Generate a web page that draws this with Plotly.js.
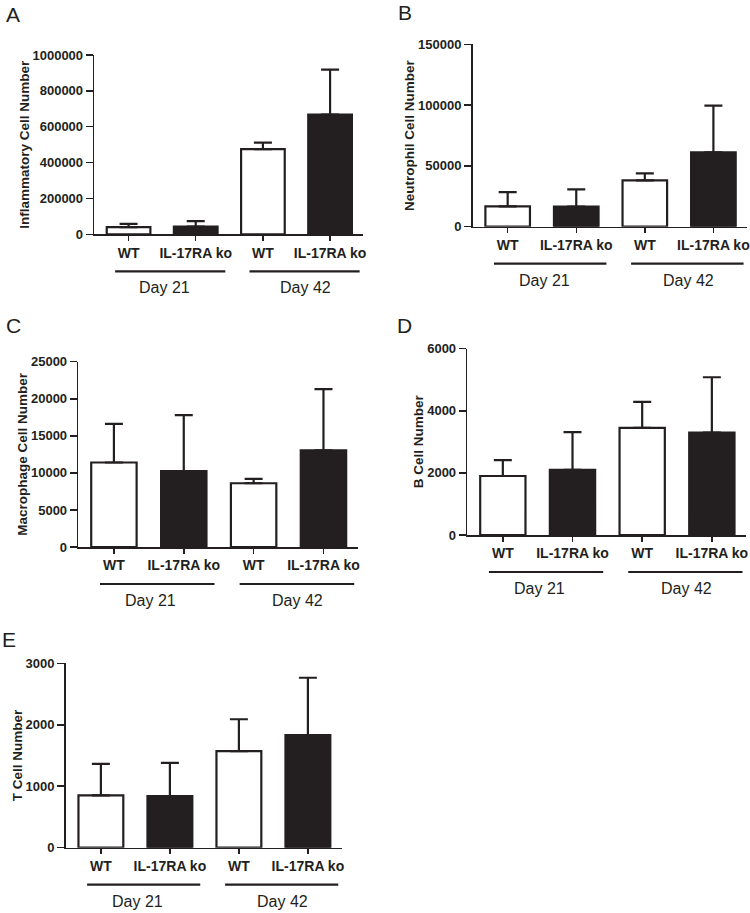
<!DOCTYPE html>
<html><head><meta charset="utf-8">
<script src="https://cdn.plot.ly/plotly-3.0.1.min.js"></script>
<style>html,body{margin:0;padding:0;background:#fff}#chart{width:750px;height:913px}</style>
</head><body><div id="chart"></div>
<script>
// ---- data ----
const categories = ['WT', 'IL-17RA ko', 'WT', 'IL-17RA ko'];
const days = ['Day 21', 'Day 42'];
const panelLetters = ['A', 'B', 'C', 'D', 'E'];
const yTitles = ['Inflammatory Cell Number', 'Neutrophil Cell Number', 'Macrophage Cell Number', 'B Cell Number', 'T Cell Number'];
const inflammatoryMean = [40000, 43000, 475000, 668000];
const inflammatorySem  = [18000, 31000, 36000, 250000];
const neutrophilMean = [16700, 16500, 38100, 61100];
const neutrophilSem  = [11800, 14200, 5800, 38500];
const macrophageMean = [11400, 10250, 8600, 13050];
const macrophageSem  = [5200, 7550, 600, 8250];
const bCellMean = [1900, 2100, 3450, 3300];
const bCellSem  = [510, 1210, 840, 1780];
const tCellMean = [850, 840, 1570, 1830];
const tCellSem  = [515, 540, 520, 935];
const yMax  = [1000000, 150000, 25000, 6000, 3000];
const yStep = [200000, 50000, 5000, 2000, 1000];

const means = [inflammatoryMean, neutrophilMean, macrophageMean, bCellMean, tCellMean];
const sems  = [inflammatorySem, neutrophilSem, macrophageSem, bCellSem, tCellSem];

// ---- layout geometry (px) ----
const W = 750, H = 913;
const boxes = [
  {x0: 94.3, x1: 363,   y0: 55,    y1: 234.3},
  {x0: 472.7, x1: 747,  y0: 44.3,  y1: 226.7},
  {x0: 78.3, x1: 357.7, y0: 361.7, y1: 547},
  {x0: 467.3, x1: 746,  y0: 348.7, y1: 535},
  {x0: 65.7, x1: 341.7, y0: 663.3, y1: 847.7}
];
const letterPos = [[12.5, 14.5], [405, 13], [13.5, 325.5], [404.5, 325.5], [8.5, 639.5]];
const INK = '#231f20';
const FONT = 'Liberation Sans, Arial, Helvetica, sans-serif';

const xIdx = categories.map((c, i) => i);
const traces = [];
const layout = {
  width: W, height: H,
  margin: {l: 0, r: 0, t: 0, b: 0},
  paper_bgcolor: '#fff', plot_bgcolor: '#fff',
  showlegend: false,
  font: {family: FONT, color: INK},
  shapes: [], annotations: []
};

boxes.forEach((b, p) => {
  const n = p === 0 ? '' : String(p + 1);
  const xa = 'xaxis' + n, ya = 'yaxis' + n;
  const xr = 'x' + n, yr = 'y' + n;
  traces.push({
    type: 'bar',
    x: xIdx,
    y: means[p],
    width: 0.65,
    xaxis: xr, yaxis: yr,
    marker: {
      color: xIdx.map(i => (i % 2 === 0 ? '#ffffff' : INK)),
      line: {color: INK, width: 2.2}
    },
    error_y: {
      type: 'data', symmetric: false,
      array: sems[p], arrayminus: sems[p].map(() => 0),
      color: INK, thickness: 2.2, width: 9
    },
    hoverinfo: 'y'
  });
  layout[xa] = {
    domain: [b.x0 / W, b.x1 / W],
    anchor: yr,
    range: [-0.51, 3.49],
    tickvals: xIdx, ticktext: categories,
    ticks: 'outside', ticklen: 5, tickwidth: 1.5, tickcolor: INK,
    showgrid: false, zeroline: false,
    showline: true, linecolor: INK, linewidth: 1.6,
    tickfont: {family: FONT, size: 14, color: INK, weight: 'bold'},
    fixedrange: true
  };
  const tv = [];
  for (let v = 0; v <= yMax[p]; v += yStep[p]) tv.push(v);
  layout[ya] = {
    domain: [1 - b.y1 / H, 1 - b.y0 / H],
    anchor: xr,
    range: [0, yMax[p]],
    tickvals: tv, tickformat: 'd',
    ticks: 'outside', ticklen: 7, tickwidth: 1.5, tickcolor: INK,
    showgrid: false, zeroline: false,
    showline: true, linecolor: INK, linewidth: 1.6,
    tickfont: {family: FONT, size: 13, color: INK, weight: 'bold'},
    title: {text: yTitles[p], standoff: 0, font: {family: FONT, size: 13.5, color: INK, weight: 'bold'}},
    fixedrange: true
  };
  // group underline + day labels
  const lineY = 1 - (b.y1 + 37) / H;
  const labY = 1 - (b.y1 + 53.5) / H;
  days.forEach((d, g) => {
    const s = g * 2;
    layout.shapes.push({
      type: 'line', xref: xr, yref: 'paper',
      x0: s - 0.2, x1: s + 1.44, y0: lineY, y1: lineY,
      line: {color: INK, width: 2.2}
    });
    layout.annotations.push({
      text: d, xref: xr, yref: 'paper',
      x: s + (g === 0 ? 0.53 : 0.63), y: labY,
      xanchor: 'center', yanchor: 'middle', showarrow: false,
      font: {family: FONT, size: 16, color: INK}
    });
  });
  layout.annotations.push({
    text: panelLetters[p], xref: 'paper', yref: 'paper',
    x: letterPos[p][0] / W, y: 1 - letterPos[p][1] / H,
    xanchor: 'center', yanchor: 'middle', showarrow: false,
    font: {family: FONT, size: 21, color: INK}
  });
});

Plotly.newPlot('chart', traces, layout, {staticPlot: true, displayModeBar: false});
</script>
</body></html>
